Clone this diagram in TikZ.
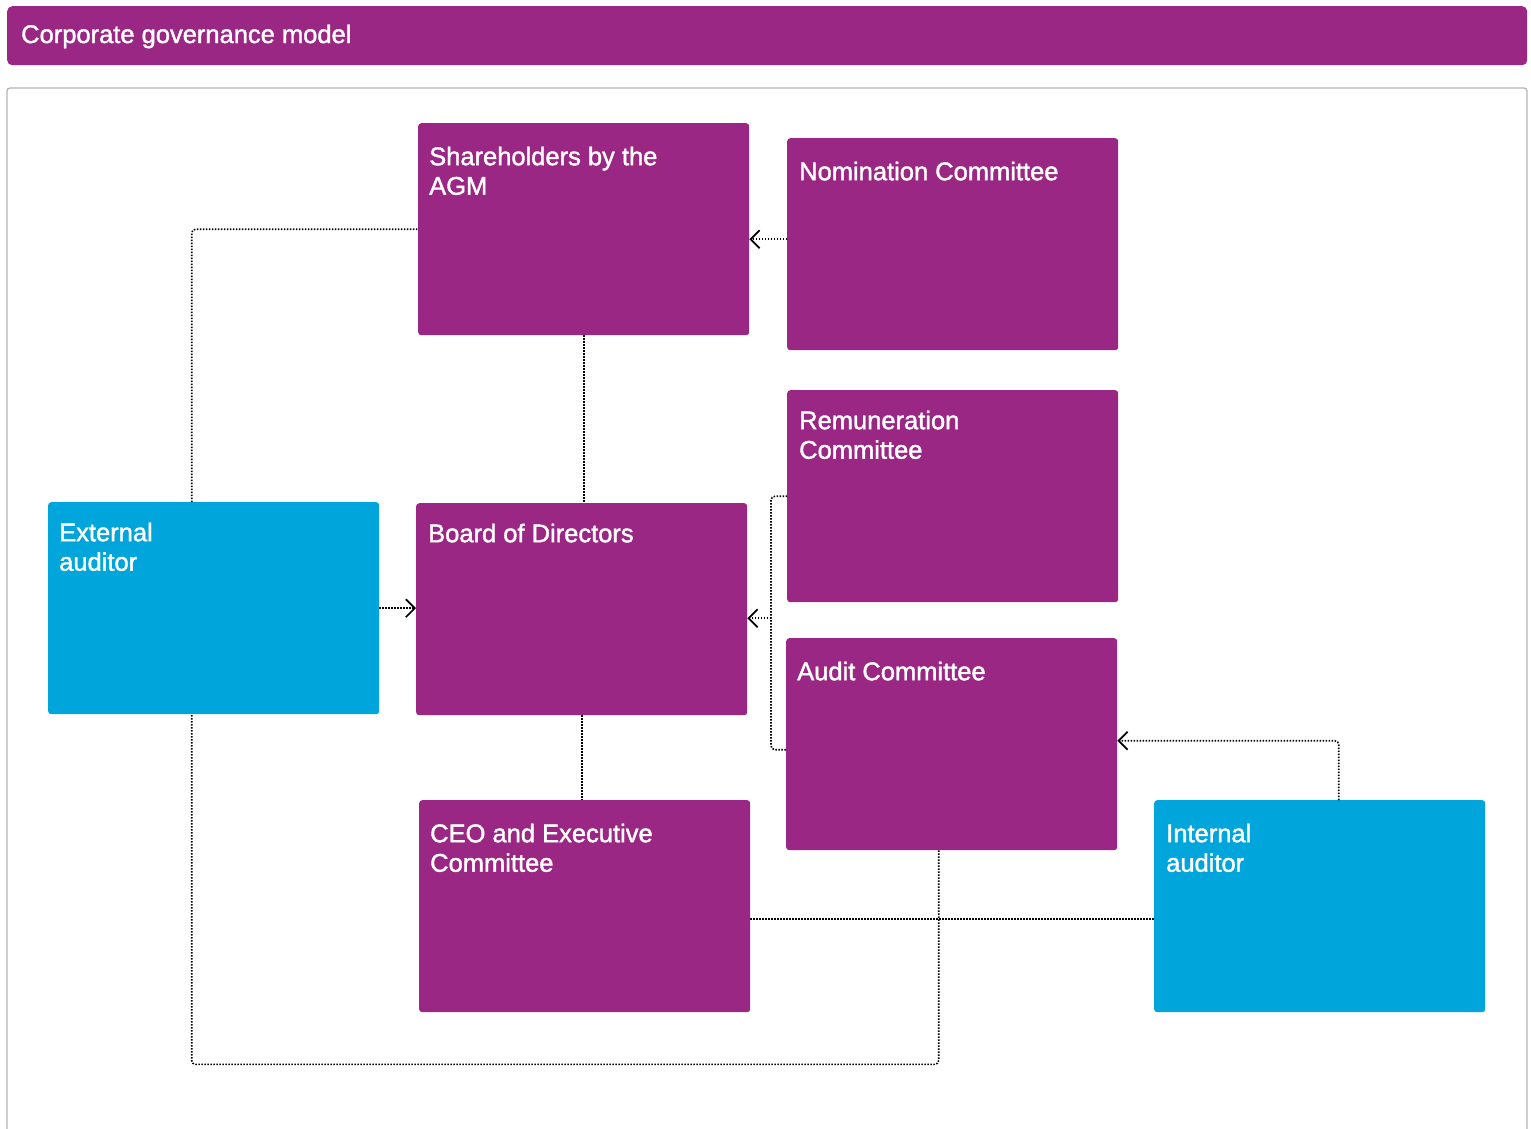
\documentclass[tikz,border=0pt]{standalone}
\usepackage{fontspec}
\setmainfont{Liberation Sans}
\newfontfamily\labelfont{Liberation Sans}[FakeBold=1.5]
\usetikzlibrary{arrows.meta}
\definecolor{gpurple}{HTML}{9B2785}
\definecolor{gblue}{HTML}{00A5DB}
\definecolor{framegray}{HTML}{B4B4B4}
\begin{document}
\begin{tikzpicture}[x=1pt,y=-1pt,
  box/.style={rounded corners=3pt, inner sep=0pt, anchor=north west, minimum width=331pt, minimum height=212pt},
  pbox/.style={box, fill=gpurple},
  bbox/.style={box, fill=gblue},
  lbl/.style={anchor=north west, text=white, font=\labelfont\fontsize{25.5}{29.5}\selectfont, align=left, inner sep=0pt},
  conn/.style={line width=1.6pt, dash pattern=on 1.5pt off 1.5pt, rounded corners=4pt},
  arr/.style={-{Straight Barb[length=9pt,width=18pt,line width=1.7pt]}}]
\useasboundingbox (0,0) rectangle (1531,1128);
% title bar
\node[fill=gpurple, rounded corners=5pt, anchor=north west, minimum width=1520pt, minimum height=59pt, inner sep=0pt] (titlebar) at (7,6) {};
\node[lbl, anchor=base west] (title) at (21,43) {Corporate governance model};
% frame
\draw[framegray, line width=1.3pt, rounded corners=3pt] (7,1140) -- (7,88) -- (1527,88) -- (1527,1140);
% boxes
\node[pbox] (sh)  at (418,123) {};
\node[pbox] (nom) at (787,138) {};
\node[pbox] (rem) at (787,390) {};
\node[pbox] (bd)  at (416,503) {};
\node[pbox] (aud) at (786,638) {};
\node[bbox] (ext) at (48,502) {};
\node[pbox] (ceo) at (419,800) {};
\node[bbox] (int) at (1154,800) {};
% labels
\node[lbl] (sh-t)  at (429,146.5) {Shareholders by the\\AGM};
\node[lbl] (nom-t) at (799,161.5) {Nomination Committee};
\node[lbl] (rem-t) at (799,410.5) {Remuneration\\Committee};
\node[lbl] (bd-t)  at (428,523.5) {Board of Directors};
\node[lbl] (aud-t) at (797,661.5) {Audit Committee};
\node[lbl] (ext-t) at (59,522.5) {External\\auditor};
\node[lbl] (ceo-t) at (430,823.5) {CEO and Executive\\Committee};
\node[lbl] (int-t) at (1166,823.5) {Internal\\auditor};
% connectors
\draw[conn,arr] ([yshift=5pt]nom.west) -- ([yshift=5pt]nom.west -| sh.east);
\draw[conn] ([xshift=-22pt]ext.north) |- (sh.west);
\draw[conn] (sh.south) -- (sh.south |- bd.north);
\draw[conn,arr] (ext.east) -- (ext.east -| bd.west);
\coordinate (rb) at ([xshift=-16pt]rem.west);
\coordinate (auw) at ([yshift=-5.5pt]aud.west);
\draw[conn] (rem.west) -- (rb) |- (auw);
\coordinate (bdarr) at ([yshift=-9pt]bd.east);
\draw[conn,arr] (rb |- bdarr) -- (bdarr);
\draw[conn] (bd.south) -- (bd.south |- ceo.north);
\draw[conn,arr] ([xshift=19pt]int.north) |- ([yshift=3.5pt]aud.east);
\coordinate (ceoe) at ([yshift=-13pt]ceo.east);
\draw[conn] (ceoe) -- (ceoe -| int.west);
\draw[conn] ([xshift=-13pt]aud.south) -- ++(0,214) -| ([xshift=-22pt]ext.south);
\end{tikzpicture}
\end{document}
